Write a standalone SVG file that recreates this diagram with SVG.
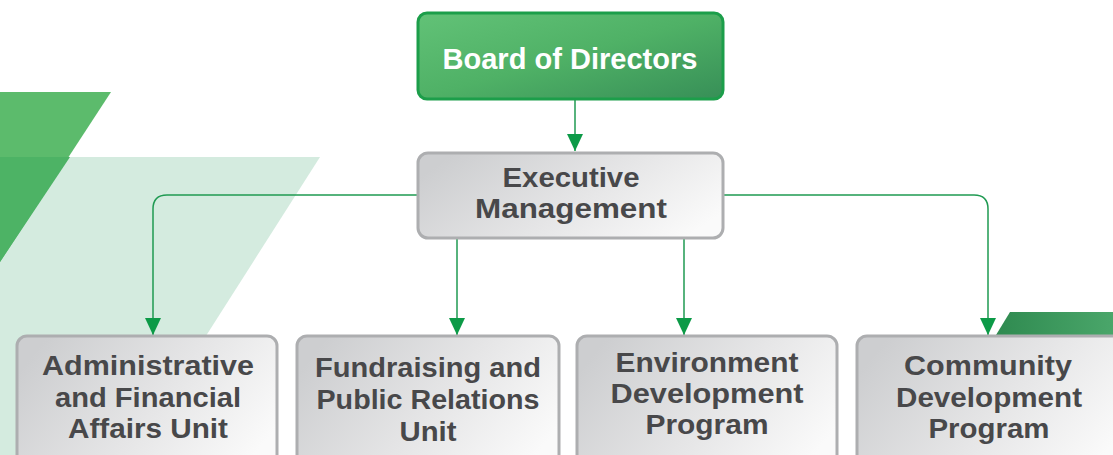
<svg xmlns="http://www.w3.org/2000/svg" width="1113" height="455" viewBox="0 0 1113 455">
  <defs>
    <linearGradient id="gGreen" x1="0" y1="0" x2="1" y2="1">
      <stop offset="0" stop-color="#62c277"/>
      <stop offset="0.5" stop-color="#4fb166"/>
      <stop offset="1" stop-color="#378f57"/>
    </linearGradient>
    <linearGradient id="gGray" x1="0" y1="0.3" x2="1" y2="0.7">
      <stop offset="0" stop-color="#cdced0"/>
      <stop offset="0.55" stop-color="#e6e6e7"/>
      <stop offset="1" stop-color="#fafafa"/>
    </linearGradient>
    <linearGradient id="gDark" x1="0" y1="0" x2="1" y2="0">
      <stop offset="0" stop-color="#2f8a50"/>
      <stop offset="1" stop-color="#4aa66a"/>
    </linearGradient>
    <marker id="arr" viewBox="0 0 17 16" refX="17" refY="8" markerWidth="17" markerHeight="16" markerUnits="userSpaceOnUse" orient="auto">
      <path d="M0,0 L17,8 L0,16 Z" fill="#0c9a47"/>
    </marker>
    <style>
      .box { fill: url(#gGray); stroke: #adaeb0; stroke-width: 3; }
      .top { fill: url(#gGreen); stroke: #1c9e4a; stroke-width: 3; }
      .t { font-family: "Liberation Sans", Arial, sans-serif; font-weight: 700; font-size: 27px; fill: #48484a; text-anchor: middle; }
      .tw { fill: #ffffff; font-size: 29px; }
      .c { fill: none; stroke: #1f9a52; stroke-width: 1.5; }
    </style>
  </defs>

  <g id="background">
    <polygon points="0,157 320,157 130,455 0,455" fill="#d4ebdf"/>
    <polygon points="0,92 111,92 0,262" fill="#5cbb6c"/>
    <polygon points="0,157 70,157 0,262" fill="#4db365"/>
    <polygon points="1010,312 1113,312 1113,335 996,335" fill="url(#gDark)"/>
  </g>

  <g id="connectors">
    <path class="c" d="M575,100 V151" marker-end="url(#arr)"/>
    <path class="c" d="M417,195 H167 Q153,195 153,209 V335" marker-end="url(#arr)"/>
    <path class="c" d="M724,195 H974 Q988,195 988,209 V335" marker-end="url(#arr)"/>
    <path class="c" d="M457,239 V335" marker-end="url(#arr)"/>
    <path class="c" d="M684,239 V335" marker-end="url(#arr)"/>
  </g>

  <g id="board">
    <rect class="top" x="418" y="13" width="305" height="86" rx="9"/>
    <text class="t tw" x="570" y="69" textLength="255" lengthAdjust="spacingAndGlyphs">Board of Directors</text>
  </g>

  <g id="executive">
    <rect class="box" x="418" y="153" width="305" height="85" rx="10"/>
    <text class="t"><tspan x="571" y="187" textLength="137" lengthAdjust="spacingAndGlyphs">Executive</tspan><tspan x="571" y="218" textLength="192" lengthAdjust="spacingAndGlyphs">Management</tspan></text>
  </g>

  <g id="admin">
    <rect class="box" x="17" y="336" width="260" height="130" rx="10"/>
    <text class="t"><tspan x="148" y="375" textLength="212" lengthAdjust="spacingAndGlyphs">Administrative</tspan><tspan x="148" y="407" textLength="186" lengthAdjust="spacingAndGlyphs">and Financial</tspan><tspan x="148" y="438" textLength="160" lengthAdjust="spacingAndGlyphs">Affairs Unit</tspan></text>
  </g>

  <g id="fundraising">
    <rect class="box" x="297" y="336" width="262" height="130" rx="10"/>
    <text class="t"><tspan x="428" y="377" textLength="226" lengthAdjust="spacingAndGlyphs">Fundraising and</tspan><tspan x="428" y="409" textLength="223" lengthAdjust="spacingAndGlyphs">Public Relations</tspan><tspan x="428" y="441" textLength="57" lengthAdjust="spacingAndGlyphs">Unit</tspan></text>
  </g>

  <g id="environment">
    <rect class="box" x="577" y="336" width="260" height="130" rx="10"/>
    <text class="t"><tspan x="707" y="372" textLength="183" lengthAdjust="spacingAndGlyphs">Environment</tspan><tspan x="707" y="403" textLength="193" lengthAdjust="spacingAndGlyphs">Development</tspan><tspan x="707" y="434" textLength="123" lengthAdjust="spacingAndGlyphs">Program</tspan></text>
  </g>

  <g id="community">
    <rect class="box" x="857" y="336" width="270" height="130" rx="10"/>
    <text class="t"><tspan x="988" y="375" textLength="168" lengthAdjust="spacingAndGlyphs">Community</tspan><tspan x="989" y="407" textLength="186" lengthAdjust="spacingAndGlyphs">Development</tspan><tspan x="989" y="438" textLength="121" lengthAdjust="spacingAndGlyphs">Program</tspan></text>
  </g>
</svg>
